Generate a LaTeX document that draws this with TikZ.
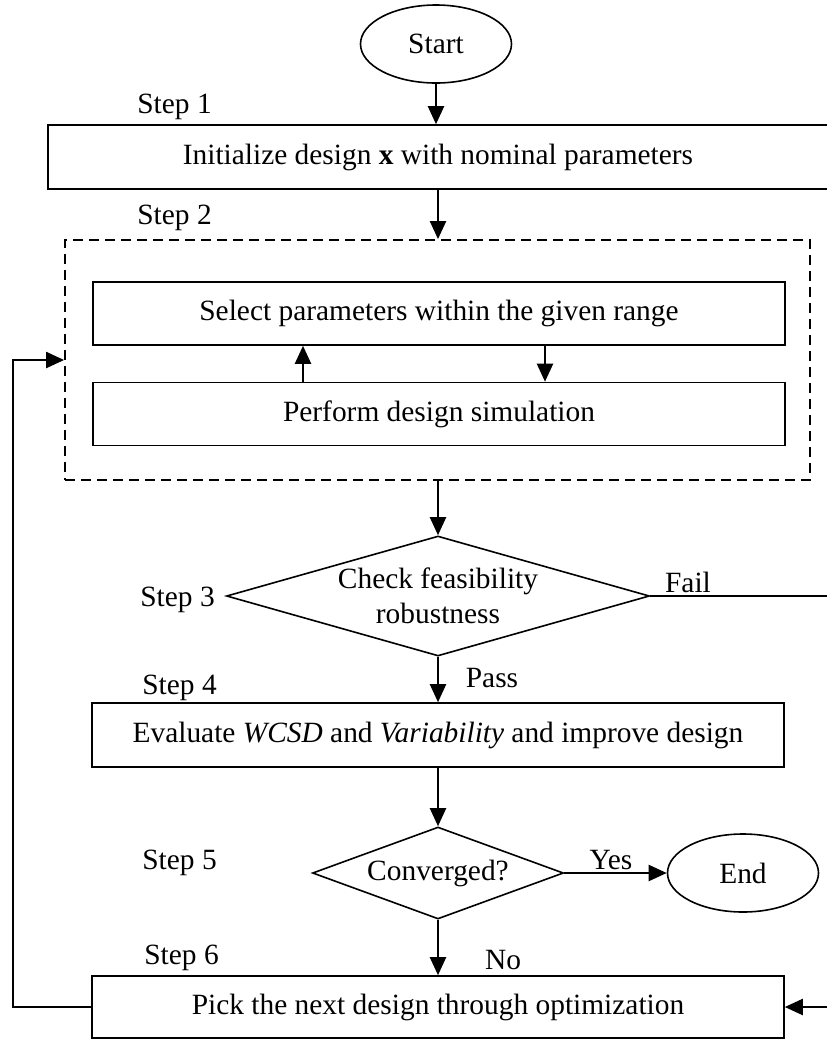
\documentclass[tikz,border=0pt]{standalone}
\usepackage{fontspec}
\setmainfont{Liberation Serif}
\usetikzlibrary{shapes.geometric,arrows.meta}
\begin{document}
\begin{tikzpicture}[
  x=0.5pt, y=-0.5pt,
  font=\fontsize{14.7}{17}\selectfont,
  every node/.style={inner sep=0pt, align=center},
  box/.style={draw, line width=0.8pt, minimum width=346pt, minimum height=31.5pt},
  term/.style={draw, ellipse, line width=0.8pt, minimum width=75.5pt, minimum height=39pt},
  decision/.style={draw, diamond, line width=0.8pt, font=\fontsize{14.7}{17.5}\selectfont},
  region/.style={draw, dashed, dash pattern=on 5pt off 3pt, line width=0.9pt},
  steplbl/.style={anchor=west},
  arr/.style={line width=1.1pt, -{Triangle[length=9pt, width=8pt]}},
  link/.style={line width=1.1pt}
]
\useasboundingbox (0,0) rectangle (826,1040);

\node[term] (start) at (436,44) {Start};
\node[box, minimum width=390pt, minimum height=32pt] (init) at (438,157)
  {Initialize design \textbf{x} with nominal parameters};
\node[region, minimum width=372.5pt, minimum height=120pt] (loopreg) at (437.5,360) {};
\node[box] (select) at (439,313.5) {Select parameters within the given range};
\node[box] (perform) at (439,414) {Perform design simulation};
\node[decision, aspect=3.5, minimum width=211.5pt, minimum height=60pt] (check) at (438,596)
  {Check feasibility\\robustness};
\node[box, minimum height=32pt] (evaluate) at (438,735)
  {Evaluate \textit{WCSD} and \textit{Variability} and improve design};
\node[decision, aspect=2.7, minimum width=125.5pt, minimum height=46pt] (conv) at (438,873) {Converged?};
\node[term] (end) at (743,873) {End};
\node[box, minimum height=31pt] (pick) at (438,1007) {Pick the next design through optimization};

\node[steplbl] (s1) at (137,107) {Step 1};
\node[steplbl] (s2) at (137,218) {Step 2};
\node[steplbl] (s3) at (140,600) {Step 3};
\node[steplbl] (s4) at (142,688) {Step 4};
\node[steplbl] (s5) at (142,863) {Step 5};
\node[steplbl] (s6) at (144,958) {Step 6};

\node (fail) at (688,582) {Fail};
\node (pass) at (492,678) {Pass};
\node (yes) at (611,860) {Yes};
\node (no) at (503,960) {No};

\coordinate (failout) at (834,596);
\coordinate (loopleft) at (13,1007);

\draw[arr] (start) -- (init.north -| start);
\draw[arr] (init) -- (loopreg.north -| init);
\draw[arr] ([xshift=-68pt]perform.north) -- ([xshift=-68pt]select.south);
\draw[arr] ([xshift=53pt]select.south) -- ([xshift=53pt]perform.north);
\draw[arr] (loopreg.south -| check.north) -- (check.north);
\draw[arr] (check.south) -- (evaluate.north -| check.south);
\draw[arr] (evaluate.south -| conv.north) -- (conv.north);
\draw[arr] (conv.east) -- (end.west);
\draw[arr] (conv.south) -- (pick.north -| conv.south);
\draw[arr] (check.east) -- (failout) |- (pick.east);
\draw[arr] (pick.west) -- (loopleft) |- (loopreg.west);
\end{tikzpicture}
\end{document}
